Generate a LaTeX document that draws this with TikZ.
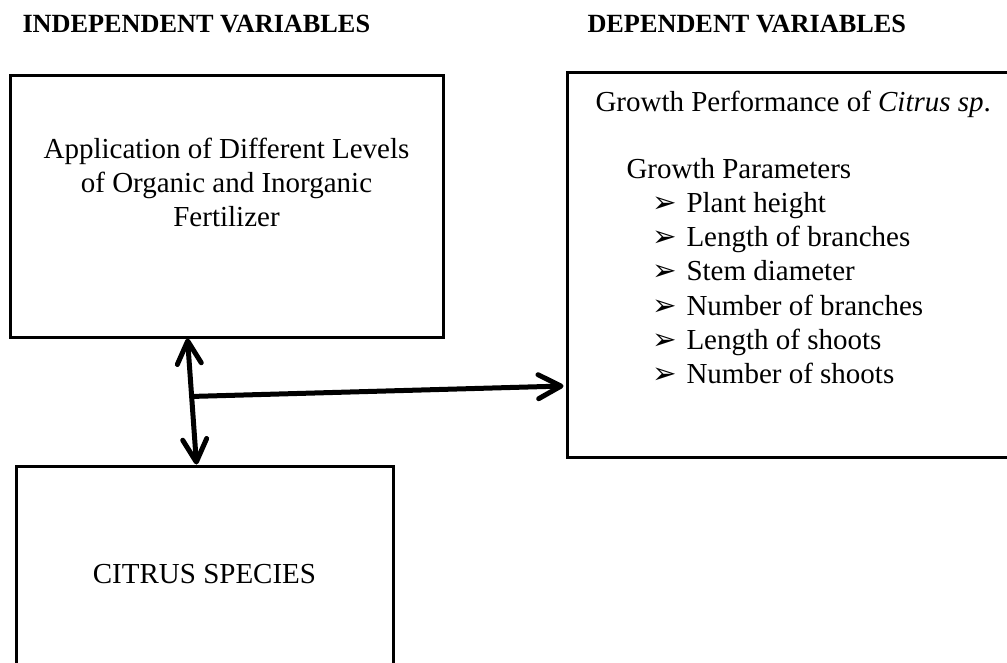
\documentclass[tikz,border=0pt]{standalone}
\usepackage{fontspec}
\setmainfont{Liberation Serif}
\newfontfamily\dingfont{DejaVu Sans}
\usetikzlibrary{arrows.meta,calc}

\tikzset{every picture/.style={line width=0.75pt}}
\tikzset{
  varbox/.style={draw, line width=2.25pt, inner sep=0pt},
  heading/.style={anchor=base west, inner sep=0pt, font=\fontsize{19.7}{23}\selectfont\bfseries},
  boxtext/.style={inner sep=0pt, font=\fontsize{21.75}{25.5}\selectfont},
  link/.style={line width=3.75pt, line cap=round},
  >={Straight Barb[length=17pt,width=18pt,round]}
}
\newcommand{\tickarrow}{{\dingfont\fontsize{22}{22}\selectfont ➢}}

\begin{document}
\begin{tikzpicture}[x=0.75pt,y=0.75pt,yscale=-1,xscale=1]
\useasboundingbox (0,0) rectangle (1007,663);
\clip (0,0) rectangle (1007,663);

%Headings
\node[heading] (indep) at (22,33) {INDEPENDENT VARIABLES};
\node[heading] (dep) at (587,33) {DEPENDENT VARIABLES};

%Boxes
\node[varbox, minimum width=324.75pt, minimum height=195.75pt] (fert) at (226.5,206.5) {};
\node[varbox, minimum width=333.75pt, minimum height=288pt] (growth) at (789.5,265) {};
\node[varbox, minimum width=282.75pt, minimum height=168pt] (species) at (204.5,578) {};

%Texts in the boxes
\node[boxtext, align=center, anchor=north] (fertxt) at (226.5,138) {Application of Different Levels\\ of Organic and Inorganic\\ Fertilizer};
\node[boxtext, anchor=base] (speciestxt) at (204.5,583) {CITRUS SPECIES};
\node[boxtext, anchor=base west] (perf) at (595,112) {Growth Performance of \textit{Citrus sp}.};
\node[boxtext, anchor=base west] (params) at (626,179) {Growth Parameters};
\foreach \trait [count=\i from 0] in {Plant height, Length of branches, Stem diameter, Number of branches, Length of shoots, Number of shoots}
  \node[boxtext, anchor=base west] (trait\i) at (652,213+34*\i) {\makebox[25.5pt][l]{\tickarrow}\trait};

%Arrows
\coordinate (vtop) at ($(fert.south west)+(179,0)$);
\coordinate (vbot) at ($(species.north west)+(182,0)$);
\coordinate (fork) at ($(vtop)!0.46!(vbot)$);
\coordinate (hend) at ($(growth.west)+(-2,121)$);
\draw[link, <->] (vtop) -- (vbot);
\draw[link, ->] (fork) -- (hend);

\end{tikzpicture}
\end{document}
